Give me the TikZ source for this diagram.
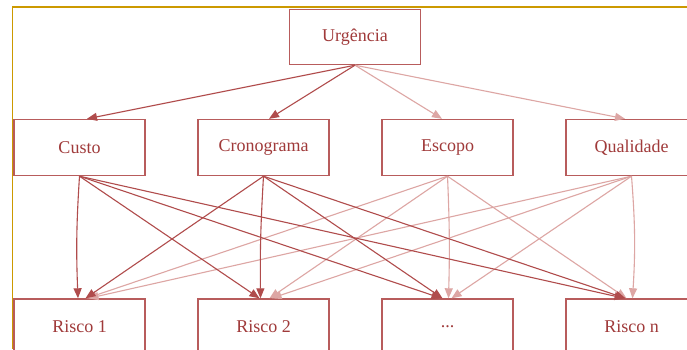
\documentclass[tikz,border=0pt]{standalone}
\usepackage{fontspec}
\setmainfont{Liberation Serif}
\usetikzlibrary{arrows.meta}
\definecolor{edgedark}{RGB}{176,76,76}
\definecolor{edgelight}{RGB}{221,166,164}
\definecolor{boxline}{RGB}{184,92,92}
\definecolor{boxtext}{RGB}{160,58,58}
\definecolor{frameline}{RGB}{204,153,0}
\tikzset{
  box/.style={draw=boxline, line width=1.4pt, fill=white, rectangle,
    minimum width=131pt, minimum height=56pt, inner sep=0pt,
    text=boxtext, font=\fontsize{18}{20}\selectfont},
  link/.style={line width=1.1pt, -{Triangle[length=10pt,width=8pt]}},
  darklink/.style={link, draw=edgedark},
  lightlink/.style={link, draw=edgelight}
}
\begin{document}
\begin{tikzpicture}[x=1pt, y=-1pt]
  \clip (0,0) rectangle (687,349);
  \fill[white] (0,0) rectangle (687,349);
  % outer frame
  \draw[frameline, line width=1.8pt] (12.5,349) -- (12.5,7) -- (687,7);

  % nodes
  \node[box, minimum height=55pt] (U) at (355,37) {Urgência};
  \node[box] (C1) at (79.5,147.5) {Custo};
  \node[box] (C2) at (263.5,147.5) {Cronograma};
  \node[box] (C3) at (447.5,147.5) {Escopo};
  \node[box] (C4) at (631.5,147.5) {Qualidade};
  \node[box] (R1) at (79.5,327) {Risco 1};
  \node[box] (R2) at (263.5,327) {Risco 2};
  \node[box] (R3) at (447.5,327) {...};
  \node[box] (R4) at (631.5,327) {Risco n};

  % top level links
  \draw[lightlink] (U.south) -- ([xshift=-5.5pt]C3.north);
  \draw[lightlink] (U.south) -- ([xshift=-6.5pt]C4.north);
  \draw[darklink] (U.south) -- ([xshift=7.5pt]C1.north);
  \draw[darklink] (U.south) -- ([xshift=5.5pt]C2.north);

  % links from Escopo and Qualidade
  \draw[lightlink] (C3.south) -- ([xshift=7pt]R1.north);
  \draw[lightlink] (C3.south) -- ([xshift=6pt]R2.north);
  \draw[lightlink] (C3.south) to[bend left=2] ([xshift=1pt]R3.north);
  \draw[lightlink] (C3.south) -- ([xshift=-5pt]R4.north);
  \draw[lightlink] (C4.south) -- ([xshift=9pt]R1.north);
  \draw[lightlink] (C4.south) -- ([xshift=8pt]R2.north);
  \draw[lightlink] (C4.south) -- ([xshift=4pt]R3.north);
  \draw[lightlink] (C4.south) to[bend left=4] ([xshift=1pt]R4.north);

  % links from Custo and Cronograma
  \draw[darklink] (C1.south) to[bend right=3] ([xshift=-1.5pt]R1.north);
  \draw[darklink] (C1.south) -- ([xshift=-4pt]R2.north);
  \draw[darklink] (C1.south) -- ([xshift=-6pt]R3.north);
  \draw[darklink] (C1.south) -- ([xshift=-7pt]R4.north);
  \draw[darklink] (C2.south) -- ([xshift=6pt]R1.north);
  \draw[darklink] (C2.south) to[bend right=2] ([xshift=-3pt]R2.north);
  \draw[darklink] (C2.south) -- ([xshift=-5pt]R3.north);
  \draw[darklink] (C2.south) -- ([xshift=-6pt]R4.north);
\end{tikzpicture}
\end{document}
